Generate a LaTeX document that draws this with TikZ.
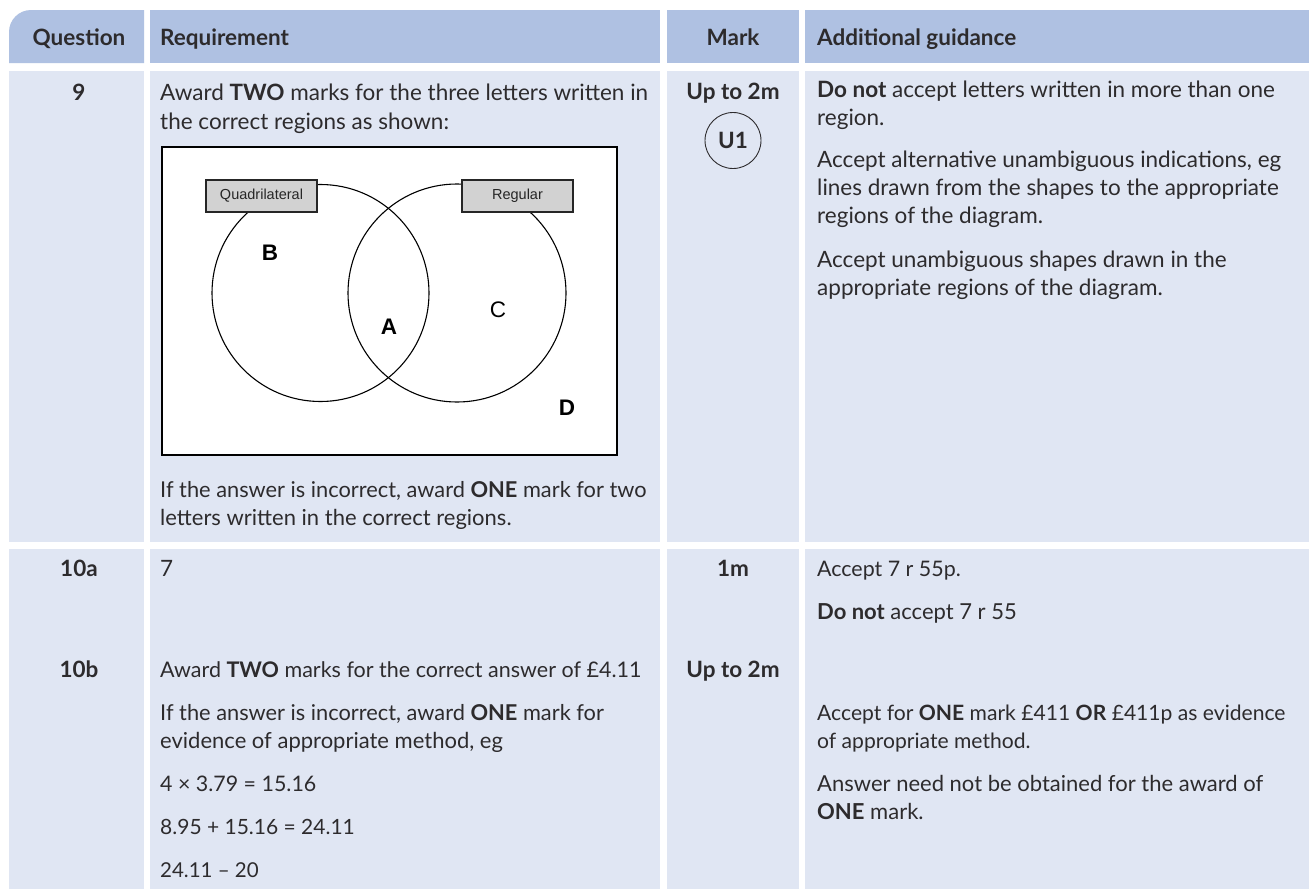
\documentclass[tikz,border=0pt]{standalone}
\usepackage{fontspec}
\setmainfont{Lato}
\newfontfamily\arialf{Liberation Sans}
\definecolor{hdr}{RGB}{175,193,226}
\definecolor{rowc}{RGB}{224,230,243}
\definecolor{txtc}{RGB}{45,43,45}
\definecolor{labc}{RGB}{210,210,210}
\newcommand{\fs}{\fontsize{22.5}{27}\selectfont}
\newcommand{\fz}[1]{\fontsize{#1}{27}\selectfont}
\begin{document}
\begin{tikzpicture}[x=1pt,y=-1pt,
  tl/.style={anchor=base west, inner sep=0pt, text=txtc, font=\fs},
  hl/.style={anchor=base west, inner sep=0pt, text=txtc, font=\fs\bfseries},
  hc/.style={anchor=base, inner sep=0pt, text=txtc, font=\fs\bfseries},
  venn/.style={line width=1.1pt, draw=black},
  labbox/.style={draw=black!85, line width=1.1pt, fill=labc, minimum width=111pt, minimum height=32pt, inner sep=0pt, font=\arialf\fontsize{14.5}{16}\selectfont, text=black!85},
  vl/.style={inner sep=0pt, font=\arialf\bfseries\fontsize{22.5}{24}\selectfont},
  vlr/.style={inner sep=0pt, font=\arialf\fontsize{22.5}{24}\selectfont}]
\useasboundingbox (0,0) rectangle (1309,889);
\fill[white] (0,0) rectangle (1309,889);
% header
\fill[hdr] (9,63) [rounded corners=22pt] -- (9,10) -- (80,10) [sharp corners] -- (144,10) -- (144,63) -- cycle;
\fill[hdr] (150,10) rectangle (660,63);
\fill[hdr] (667,10) rectangle (799,63);
\fill[hdr] (805,10) rectangle (1309,63);
% row 1
\fill[rowc] (9,71) rectangle (144,542);
\fill[rowc] (150,71) rectangle (660,542);
\fill[rowc] (667,71) rectangle (799,542);
\fill[rowc] (805,71) rectangle (1309,542);
% row 2
\fill[rowc] (9,549) rectangle (144,889);
\fill[rowc] (150,549) rectangle (660,889);
\fill[rowc] (667,549) rectangle (799,889);
\fill[rowc] (805,549) rectangle (1309,889);
% header text
\node[hc] (hq) at (79,45) {Question};
\node[hl] (hr) at (160,45) {Requirement};
\node[hc] (hm) at (733,45) {Mark};
\node[hl] (ha) at (817,45) {Additional guidance};
% row 1
\node[hc] (q9) at (79,100) {9};
\node[tl] (r1a) at (160,100) {Award \textbf{TWO} marks for the three letters written in};
\node[tl] (r1b) at (160,129) {the correct regions as shown:};
% venn
\draw[line width=1.1pt, fill=white] (162,147) rectangle (617,455);
\draw[venn] (320.5,293) circle[radius=108.5pt];
\draw[venn] (457,293) circle[radius=109pt];
\node[labbox] (quad) at (261.5,196) {Quadrilateral};
\node[labbox] (reg) at (517.5,196) {Regular};
\node[vl] (vb) at (270,253) {B};
\node[vl] (va) at (389,327) {A};
\node[vlr] (vc) at (498,310) {C};
\node[vl] (vd) at (567,408) {D};
\node[tl, font=\fz{21.8}] (r1c) at (160,497) {If the answer is incorrect, award \textbf{ONE} mark for two};
\node[tl, font=\fz{22}] (r1d) at (160,525) {letters written in the correct regions.};
\node[hc] (m1) at (733,99) {Up to 2m};
\node[draw=txtc, line width=0.9pt, circle, minimum size=56pt, inner sep=0pt, text=txtc, font=\fs\bfseries] (u1) at (733,140.5) {U1};
\node[tl] (g1a) at (817,97) {\textbf{Do not} accept letters written in more than one};
\node[tl] (g1b) at (817,125) {region.};
\node[tl] (g1c) at (817,167) {Accept alternative unambiguous indications, eg};
\node[tl] (g1d) at (817,195) {lines drawn from the shapes to the appropriate};
\node[tl] (g1e) at (817,223) {regions of the diagram.};
\node[tl] (g1f) at (817,267) {Accept unambiguous shapes drawn in the};
\node[tl] (g1g) at (817,295) {appropriate regions of the diagram.};
% row 2
\node[hc] (q10a) at (79,576) {10a};
\node[tl] (r2a) at (160,576) {7};
\node[hc] (m2) at (733,576) {1m};
\node[tl, font=\fz{21.4}] (g2a) at (817,576) {Accept 7 r 55p.};
\node[tl, font=\fz{22}] (g2b) at (817,619) {\textbf{Do not} accept 7 r 55};
\node[hc] (q10b) at (79,677) {10b};
\node[tl, font=\fz{21.5}] (r3a) at (160,677) {Award \textbf{TWO} marks for the correct answer of £4.11};
\node[hc] (m3) at (733,677) {Up to 2m};
\node[tl, font=\fz{21.8}] (r3b) at (160,720) {If the answer is incorrect, award \textbf{ONE} mark for};
\node[tl, font=\fz{22}] (r3c) at (160,748) {evidence of appropriate method, eg};
\node[tl, font=\fz{21.4}] (r3d) at (160,791) {4 × 3.79 = 15.16};
\node[tl, font=\fz{21}] (r3e) at (160,834) {8.95 + 15.16 = 24.11};
\node[tl, font=\fz{20.5}] (r3f) at (160,877) {24.11 – 20};
\node[tl, font=\fz{21.1}] (g3a) at (817,720) {Accept for \textbf{ONE} mark £411 \textbf{OR} £411p as evidence};
\node[tl, font=\fz{21.1}] (g3b) at (817,748) {of appropriate method.};
\node[tl, font=\fz{22}] (g3c) at (817,791) {Answer need not be obtained for the award of};
\node[tl, font=\fz{22}] (g3d) at (817,819) {\textbf{ONE} mark.};
\end{tikzpicture}
\end{document}
